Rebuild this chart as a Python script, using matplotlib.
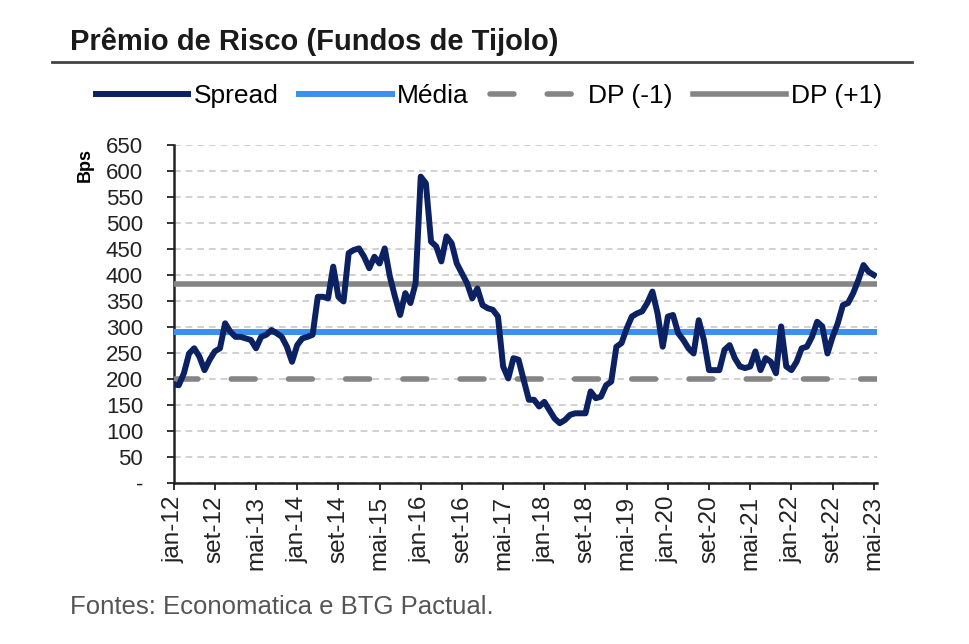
import numpy as np
import matplotlib.pyplot as plt
from matplotlib.lines import Line2D

plt.rcParams['font.family'] = ['Liberation Sans', 'DejaVu Sans']

# spread mensal, jan-12 .. mai-23 (bps)
spread = [190, 188, 211, 249, 259, 243, 217, 237, 253, 259,
          307, 291, 281, 281, 278, 275, 259, 281, 285, 294,
          288, 281, 262, 233, 265, 278, 281, 285, 358, 358,
          355, 416, 358, 349, 442, 448, 451, 435, 413, 435,
          422, 451, 397, 358, 323, 365, 346, 384, 589, 576,
          464, 455, 426, 474, 461, 422, 403, 384, 355, 374,
          342, 336, 333, 320, 224, 201, 240, 237, 198, 160,
          160, 147, 156, 140, 124, 115, 121, 131, 134, 134,
          134, 176, 163, 166, 188, 195, 262, 269, 297, 320,
          326, 330, 346, 368, 326, 262, 320, 323, 288, 275,
          259, 249, 313, 275, 217, 217, 217, 256, 265, 240,
          224, 221, 224, 253, 217, 240, 233, 211, 301, 224,
          217, 233, 259, 262, 281, 310, 301, 249, 281, 307,
          342, 346, 365, 390, 419, 406, 400]
media = 291
dp_menos = 200
dp_mais = 383

tick_labels = ['jan-12', 'set-12', 'mai-13', 'jan-14', 'set-14', 'mai-15',
               'jan-16', 'set-16', 'mai-17', 'jan-18', 'set-18', 'mai-19',
               'jan-20', 'set-20', 'mai-21', 'jan-22', 'set-22', 'mai-23']
y_ticks = [0, 50, 100, 150, 200, 250, 300, 350, 400, 450, 500, 550, 600, 650]

navy = '#0b2161'
blue = '#3a8ff0'
gray = '#858585'
dp_dash = (0, (4.3, 6.0))

fig = plt.figure(figsize=(9.7, 6.44), dpi=100)
ax = fig.add_axes([0.179, 0.25, 0.725, 0.525])

x = np.arange(len(spread))
ax.plot(x, spread, color=navy, lw=4.3, solid_joinstyle='round', zorder=5)
ax.axhline(media, color=blue, lw=4.3, zorder=4)
ax.axhline(dp_menos, color=gray, lw=4.0, ls=dp_dash, dash_capstyle='round', zorder=3)
ax.axhline(dp_mais, color=gray, lw=4.0, zorder=3)

ax.set_xlim(0, 136.6)
ax.set_ylim(0, 650)
ax.set_yticks(y_ticks)
ax.set_yticklabels(['-'] + [str(v) for v in y_ticks[1:]], fontsize=16)
ax.set_xticks(np.arange(0, 137, 8))
ax.set_xticklabels(tick_labels, rotation=90, fontsize=17.5)
ax.grid(axis='y', color='#c9c9c9', lw=1.2, ls=(0, (4, 3)))
ax.set_axisbelow(True)
for s in ['top', 'right']:
    ax.spines[s].set_visible(False)
for s in ['left', 'bottom']:
    ax.spines[s].set_linewidth(1.8)
    ax.spines[s].set_color('#222222')
ax.tick_params(axis='both', direction='out', length=5, width=1.3, colors='#222222', labelcolor='#222222')
ax.tick_params(axis='y', pad=17)
ax.tick_params(axis='x', pad=4)
ax.set_ylabel('Bps', fontsize=13, fontweight='bold')
ax.yaxis.set_label_coords(-0.114, 0.94)

# titulo e linha
fig.text(0.072, 0.935, 'Prêmio de Risco (Fundos de Tijolo)', fontsize=21, fontweight='bold',
         color='#1a1a1a', va='center')
fig.add_artist(Line2D([0.054, 0.94], [0.904, 0.904], color='#444444', lw=2.0))

# legenda
handles = [Line2D([], [], color=navy, lw=4.3),
           Line2D([], [], color=blue, lw=4.3),
           Line2D([], [], color=gray, lw=4.0, ls=dp_dash, dash_capstyle='round'),
           Line2D([], [], color=gray, lw=4.0)]
fig.legend(handles, ['Spread', 'Média', 'DP (-1)', 'DP (+1)'], loc='center',
           bbox_to_anchor=(0.504, 0.851), ncol=4, frameon=False, fontsize=19,
           handlelength=3.5, handletextpad=0.2, columnspacing=0.8)

fig.text(0.072, 0.058, 'Fontes: Economatica e BTG Pactual.', fontsize=18.5, color='#555555', va='center')

fig.savefig('out.png', dpi=100)
